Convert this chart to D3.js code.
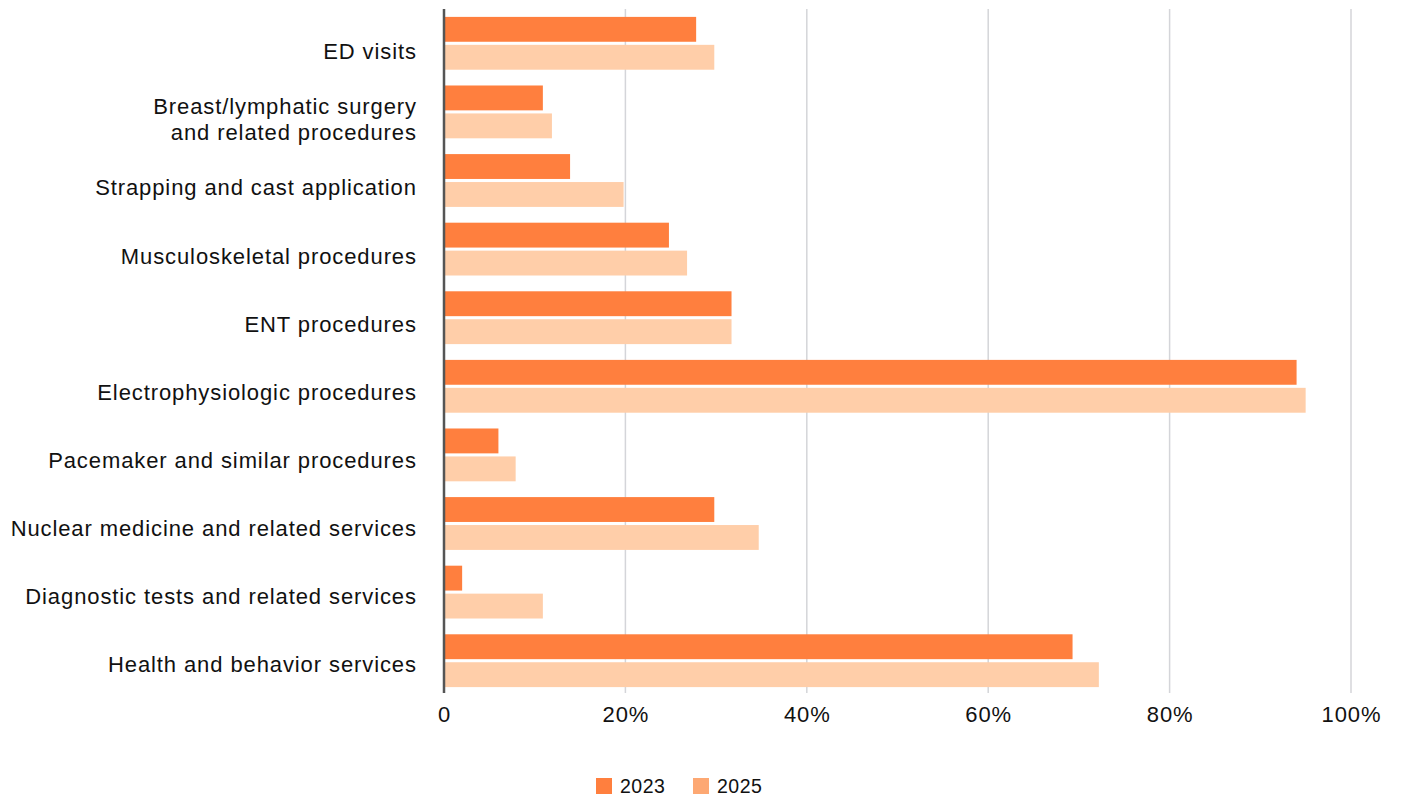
<!DOCTYPE html>
<html>
<head>
<meta charset="utf-8">
<script src="https://cdn.jsdelivr.net/npm/d3@7"></script>
<style>
  html, body { margin: 0; padding: 0; background: #fff; }
  svg { display: block; font-family: "Liberation Sans", Arial, Helvetica, sans-serif; }
</style>
</head>
<body>
<svg id="chart" width="1415" height="797"></svg>
<script>
// Share of services, by category and year (percent)
const categories = [
  ["ED visits"],
  ["Breast/lymphatic surgery", "and related procedures"],
  ["Strapping and cast application"],
  ["Musculoskeletal procedures"],
  ["ENT procedures"],
  ["Electrophysiologic procedures"],
  ["Pacemaker and similar procedures"],
  ["Nuclear medicine and related services"],
  ["Diagnostic tests and related services"],
  ["Health and behavior services"]
];
const years = ["2023", "2025"];
const values2023 = [27.8, 10.9, 13.9, 24.8, 31.7, 94.0, 6.0, 29.8, 2.0, 69.3];
const values2025 = [29.8, 11.9, 19.8, 26.8, 31.7, 95.0, 7.9, 34.7, 10.9, 72.2];
const xTicks = [0, 20, 40, 60, 80, 100];
const xTickLabels = ["0", "20%", "40%", "60%", "80%", "100%"];

const barColors = { "2023": "#FF7F3E", "2025": "#FFCEA9" };
const legendColors = { "2023": "#FF7F3E", "2025": "#FDA873" };

const svg = d3.select("#chart");
const margin = { left: 444, right: 64, top: 9, bottom: 102 };
const W = 1415, H = 797;
const labelFont = 22, labelTrack = 0.9;

const x = d3.scaleLinear().domain([0, 100]).range([margin.left, W - margin.right]);
const y = d3.scaleBand().domain(d3.range(categories.length)).range([margin.top, H - margin.bottom])
  .paddingInner(0.23).paddingOuter(0.115);
const ySub = d3.scaleBand().domain(years).range([0, y.bandwidth()]).paddingInner(0.11);
// category label rows
const yLab = d3.scaleBand().domain(d3.range(categories.length)).range([17.6, 698.3]);

const rows = categories.map((c, i) => ({ i, label: c, "2023": values2023[i], "2025": values2025[i] }));

// vertical gridlines
svg.append("g").selectAll("line").data(xTicks.filter(t => t > 0)).join("line")
  .attr("x1", d => x(d)).attr("x2", d => x(d))
  .attr("y1", margin.top).attr("y2", H - margin.bottom - 2)
  .attr("stroke", "#d4d5d9").attr("stroke-width", 1.5);

// bars
const groups = svg.append("g").selectAll("g").data(rows).join("g")
  .attr("transform", d => `translate(0,${y(d.i)})`);
groups.selectAll("rect").data(d => years.map(yr => ({ yr, v: d[yr] }))).join("rect")
  .attr("x", x(0))
  .attr("y", d => ySub(d.yr))
  .attr("width", d => x(d.v) - x(0))
  .attr("height", ySub.bandwidth())
  .attr("fill", d => barColors[d.yr]);

// baseline axis
svg.append("line")
  .attr("x1", x(0)).attr("x2", x(0))
  .attr("y1", margin.top).attr("y2", H - margin.bottom - 2)
  .attr("stroke", "#555").attr("stroke-width", 2.5);

// x tick labels
const xAxis = d3.axisBottom(x).tickValues(xTicks).tickSize(0).tickPadding(0)
  .tickFormat((d, i) => xTickLabels[i]);
const gx = svg.append("g").attr("transform", "translate(0,722)").call(xAxis);
gx.select(".domain").remove();
gx.selectAll("text").attr("font-size", labelFont).attr("fill", "#111").attr("dy", 0)
  .attr("y", 0).style("letter-spacing", labelTrack + "px")
  .style("font-family", "inherit");

// category labels
const lab = svg.append("g").selectAll("text").data(rows).join("text")
  .attr("text-anchor", "end")
  .attr("font-size", labelFont)
  .style("letter-spacing", labelTrack + "px")
  .attr("fill", "#111")
  .attr("transform", d => `translate(0,${yLab(d.i) + yLab.bandwidth() / 2})`);
lab.each(function(d) {
  const t = d3.select(this);
  const n = d.label.length;
  d.label.forEach((line, k) => {
    t.append("tspan").attr("x", 416 + labelTrack)
      .attr("y", (k - (n - 1) / 2) * 26)
      .attr("dy", "0.35em")
      .text(line);
  });
});

// legend
const legend = svg.append("g").attr("transform", "translate(596,778)");
const items = legend.selectAll("g").data(years).join("g")
  .attr("transform", (d, i) => `translate(${i * 97},0)`);
items.append("rect").attr("width", 16).attr("height", 16).attr("fill", d => legendColors[d]);
items.append("text").attr("x", 24).attr("y", 14.5)
  .attr("font-size", 19.5).style("letter-spacing", "0.5px")
  .attr("fill", "#111").text(d => d);
</script>
</body>
</html>
